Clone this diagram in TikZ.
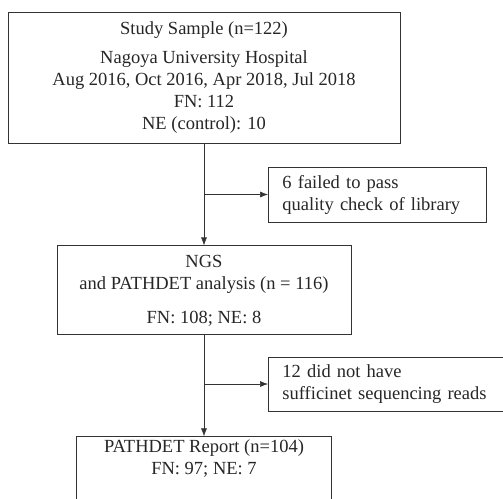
\documentclass[tikz,border=0pt]{standalone}
\usepackage{fontspec}
\setmainfont{Liberation Serif}
\usetikzlibrary{arrows.meta,positioning}

\tikzset{
  box/.style={draw=black!80,line width=0.9pt,align=center,text=black!85,
              font=\fontsize{18.5}{22}\selectfont},
  sidebox/.style={box,align=left,anchor=west,inner xsep=14pt,inner ysep=4pt}
}

\begin{document}
\begin{tikzpicture}[->,>={Latex[length=8pt,width=6pt]},x=1pt,y=1pt,semithick,
                    every edge/.append style={draw=black!80}]
 \useasboundingbox (0,0) rectangle (503,-498);
 %\draw[help lines] (0,0) rectangle (503,-498);

 \node[box,minimum width=392pt,minimum height=131pt] (sample) at (204,-77.5)
   {Study Sample (n=122)\\[7pt]
    Nagoya University Hospital\\
    Aug 2016, Oct 2016, Apr 2018, Jul 2018\\
    FN: 112\\
    NE (control): 10};
 \node[box,minimum width=294pt,minimum height=89pt] (ngs) [below=102pt of sample]
   {NGS\\
    and PATHDET analysis (n = 116)\\[12pt]
    FN: 108; NE: 8};
 \node[box,minimum width=255pt,minimum height=68pt] (report) [below=101pt of ngs]
   {PATHDET Report (n=104)\\
    FN: 97; NE: 7\\[8pt]};

 \node[sidebox,text width=190pt,minimum height=55pt] (failed) at (268,-194.5)
   {6 failed to pass\\
    quality check of library};
 \node[sidebox,text width=222pt,minimum height=54pt] (reads) at (268,-384)
   {12 did not have\\
    sufficinet sequencing reads};

 \coordinate (b1) at (sample.south |- failed.west);
 \coordinate (b2) at (ngs.south |- reads.west);

 \path (sample) edge (ngs)
       (ngs)    edge (report)
       (b1)     edge (failed)
       (b2)     edge (reads);
\end{tikzpicture}
\end{document}
